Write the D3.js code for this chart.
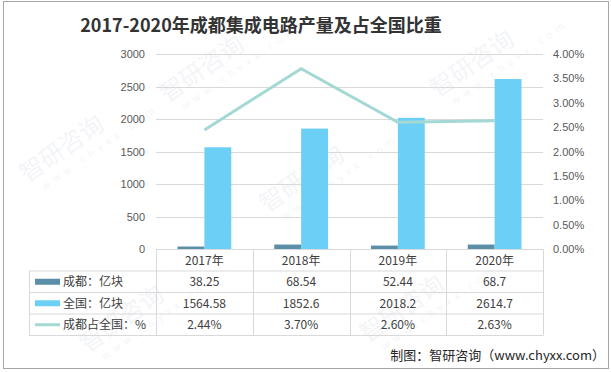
<!DOCTYPE html>
<html>
<head>
<meta charset="utf-8">
<script src="https://cdn.jsdelivr.net/npm/d3@7"></script>
<style>
  body { margin: 0; background: #fff; }
  svg { display: block; font-family: "Noto Sans CJK SC", "Noto Sans", sans-serif; }
</style>
</head>
<body>
<svg></svg>
<script>
const width = 611, height = 372;
const svg = d3.select("svg").attr("width", width).attr("height", height);

// Data
const years = ["2017年", "2018年", "2019年", "2020年"];
const chengdu = [38.25, 68.54, 52.44, 68.7];
const national = [1564.58, 1852.6, 2018.2, 2614.7];
const share = [0.0244, 0.0370, 0.0260, 0.0263];
const leftTicks = [0, 500, 1000, 1500, 2000, 2500, 3000];
const rightTicks = [0, 0.005, 0.01, 0.015, 0.02, 0.025, 0.03, 0.035, 0.04];
const chengduLabels = ["38.25", "68.54", "52.44", "68.7"];
const nationalLabels = ["1564.58", "1852.6", "2018.2", "2614.7"];
const shareLabels = ["2.44%", "3.70%", "2.60%", "2.63%"];

const colDark = "#5b8fa7", colLight = "#6bcff6", colLine = "#a3d8d4";
const plot = { left: 156, right: 543, top: 54, bottom: 249 };

// outer frame
svg.append("rect").attr("x", 3.5).attr("y", 1.5).attr("width", 605).attr("height", 367)
    .attr("fill", "#fff").attr("stroke", "#a6a6a6").attr("stroke-width", 1);

// watermarks (faint)
const marks = [[200, 80], [300, 190], [470, 75], [60, 160], [120, 330], [400, 320]];
marks.forEach(([x, y]) => {
    const g = svg.append("g").attr("transform", `translate(${x},${y}) rotate(-35)`).attr("opacity", 0.06);
    g.append("text").attr("x", -40).attr("y", 0).attr("font-size", 24)
        .attr("fill", "#3a5a8a").text("智研咨询");
    g.append("text").attr("x", -30).attr("y", 16).attr("font-size", 10).attr("letter-spacing", 5)
        .attr("fill", "#3a5a8a").text("www.chyxx.com");
});

// title
svg.append("text").attr("x", 261).attr("y", 32).attr("text-anchor", "middle")
    .attr("font-size", 18).attr("font-weight", "bold").attr("fill", "#333")
    .text("2017-2020年成都集成电路产量及占全国比重");

// scales
const x = d3.scaleBand().domain(years).range([plot.left, plot.right]);
const xInner = d3.scaleBand().domain(["cd", "qg"]).range([0, x.bandwidth()]).paddingOuter(0.8);
const yL = d3.scaleLinear().domain([0, 3000]).range([plot.bottom, plot.top]);
const yR = d3.scaleLinear().domain([0, 0.04]).range([plot.bottom, plot.top]);

// gridlines
svg.append("g").selectAll("line").data(leftTicks.slice(1)).join("line")
    .attr("x1", plot.left).attr("x2", plot.right)
    .attr("y1", d => Math.round(yL(d)) + 0.5).attr("y2", d => Math.round(yL(d)) + 0.5)
    .attr("stroke", "#d9d9d9");

// left axis
const axL = svg.append("g").attr("transform", `translate(${plot.left - 11},0)`)
    .call(d3.axisLeft(yL).tickValues(leftTicks).tickFormat(d3.format("d")).tickSize(0).tickPadding(0));
axL.select(".domain").remove();
axL.selectAll("text").attr("font-size", 11).attr("fill", "#595959").attr("font-family", "Liberation Sans, sans-serif");

// right axis
const axR = svg.append("g").attr("transform", `translate(${plot.right + 10},0)`)
    .call(d3.axisRight(yR).tickValues(rightTicks).tickFormat(d3.format(".2%")).tickSize(0).tickPadding(0));
axR.select(".domain").remove();
axR.selectAll("text").attr("font-size", 11).attr("fill", "#595959").attr("font-family", "Liberation Sans, sans-serif");

// bars
const groups = svg.append("g").selectAll("g").data(years).join("g")
    .attr("transform", d => `translate(${x(d)},0)`);
groups.append("rect")
    .attr("x", xInner("cd")).attr("width", xInner.bandwidth())
    .attr("y", (d, i) => yL(chengdu[i])).attr("height", (d, i) => plot.bottom - yL(chengdu[i]))
    .attr("fill", colDark);
groups.append("rect")
    .attr("x", xInner("qg")).attr("width", xInner.bandwidth())
    .attr("y", (d, i) => yL(national[i])).attr("height", (d, i) => plot.bottom - yL(national[i]))
    .attr("fill", colLight);

// share line
const line = d3.line().x((d, i) => x(years[i]) + x.bandwidth() / 2).y(d => yR(d));
svg.append("path").datum(share).attr("d", line)
    .attr("fill", "none").attr("stroke", colLine).attr("stroke-width", 3);

// data table
const rowY = [249.5, 271, 292.5, 314, 335.5];
const tableLeft = 29;
const t = svg.append("g").attr("stroke", "#d9d9d9").attr("stroke-width", 1);
t.append("line").attr("x1", plot.left).attr("x2", plot.right).attr("y1", rowY[0]).attr("y2", rowY[0]);
rowY.slice(1).forEach(y => t.append("line").attr("x1", tableLeft).attr("x2", plot.right).attr("y1", y).attr("y2", y));
t.append("line").attr("x1", tableLeft + 0.5).attr("x2", tableLeft + 0.5).attr("y1", rowY[1]).attr("y2", rowY[4]);
years.concat(["end"]).forEach((d, i) => {
    const xx = Math.round(plot.left + i * x.bandwidth()) + 0.5;
    t.append("line").attr("x1", xx).attr("x2", xx).attr("y1", rowY[0]).attr("y2", rowY[4]);
});

const cellText = (labels, row) => svg.append("g").selectAll("text").data(labels).join("text")
    .attr("x", (d, i) => x(years[i]) + x.bandwidth() / 2)
    .attr("y", (rowY[row] + rowY[row + 1]) / 2 + 4.5)
    .attr("text-anchor", "middle").attr("font-size", 12).attr("fill", "#404040")
    .text(d => d);
cellText(years, 0);
cellText(chengduLabels, 1);
cellText(nationalLabels, 2);
cellText(shareLabels, 3);

// legend keys inside the table
const keys = [
    { name: "成都：亿块", type: "bar", color: colDark },
    { name: "全国：亿块", type: "bar", color: colLight },
    { name: "成都占全国：%", type: "line", color: colLine }
];
keys.forEach((k, i) => {
    const cy = (rowY[i + 1] + rowY[i + 2]) / 2;
    if (k.type === "bar") {
        svg.append("rect").attr("x", 35).attr("y", cy - 3).attr("width", 25).attr("height", 6).attr("fill", k.color);
    } else {
        svg.append("line").attr("x1", 35).attr("x2", 60).attr("y1", cy).attr("y2", cy)
            .attr("stroke", k.color).attr("stroke-width", 3);
    }
    svg.append("text").attr("x", 63).attr("y", cy + 4.5).attr("font-size", 12).attr("fill", "#404040").text(k.name);
});

// footer
svg.append("text").attr("x", 605).attr("y", 360).attr("text-anchor", "end")
    .attr("font-size", 13).attr("fill", "#262626").text("制图：智研咨询（www.chyxx.com）");
</script>
</body>
</html>
